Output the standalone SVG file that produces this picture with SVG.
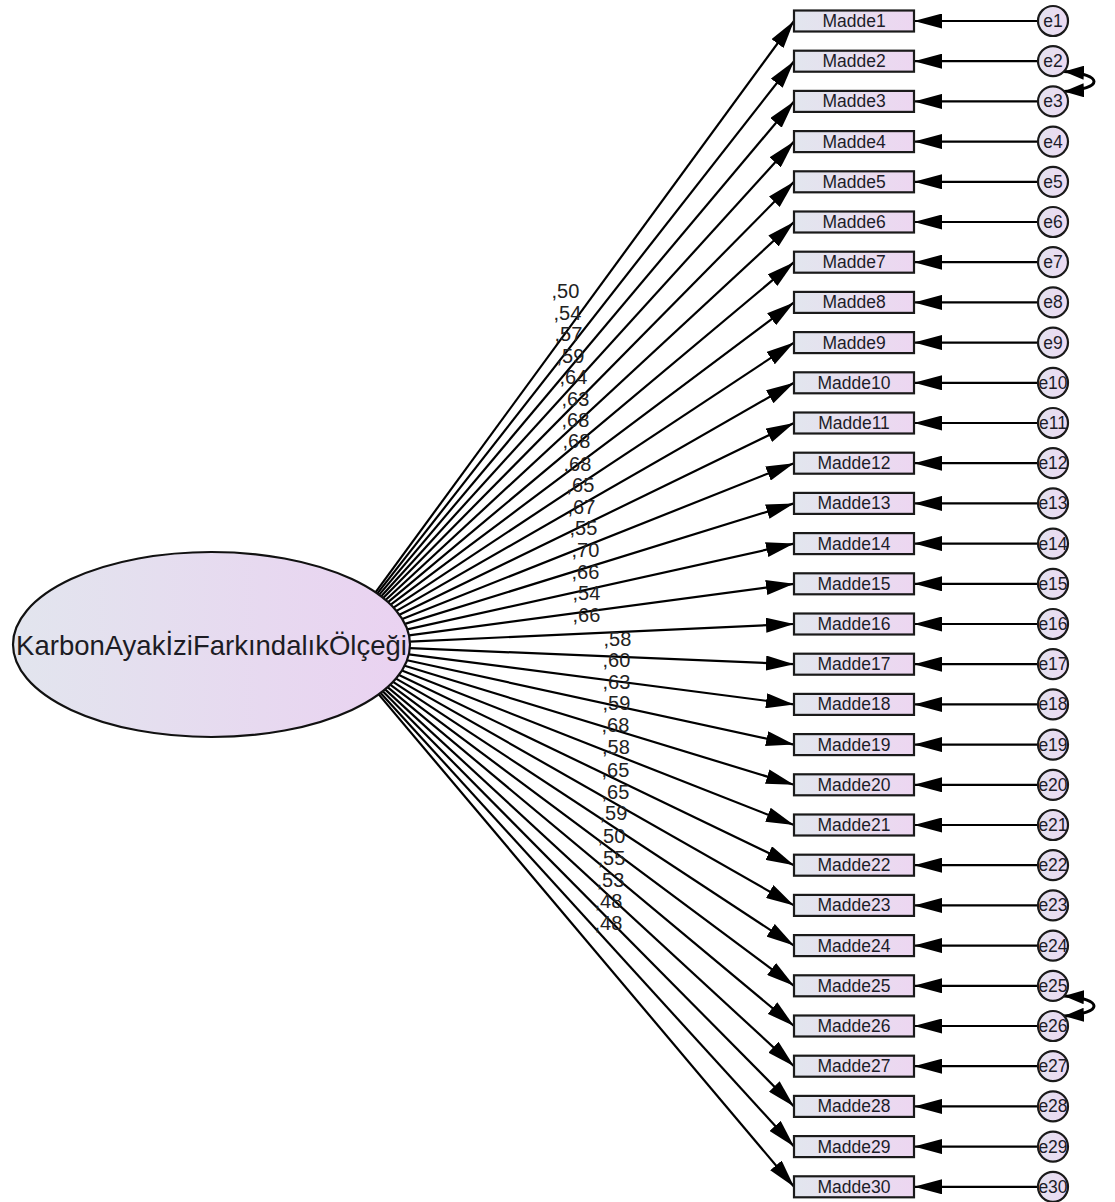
<svg xmlns="http://www.w3.org/2000/svg" width="1115" height="1202" viewBox="0 0 1115 1202">
<defs>
<linearGradient id="gBox" x1="0" y1="0" x2="1" y2="0"><stop offset="0" stop-color="#e2e6ee"/><stop offset="1" stop-color="#edd6f1"/></linearGradient>
<linearGradient id="gEll" x1="0" y1="0" x2="1" y2="0"><stop offset="0" stop-color="#e2e5ee"/><stop offset="1" stop-color="#ead2f1"/></linearGradient>
<linearGradient id="gCir" x1="0" y1="0" x2="1" y2="0"><stop offset="0" stop-color="#e3e2ef"/><stop offset="1" stop-color="#ecd9f2"/></linearGradient>
<marker id="ah" markerUnits="userSpaceOnUse" markerWidth="28" markerHeight="15" viewBox="0 0 28 15" refX="28" refY="7.5" orient="auto"><path d="M0,0 L28,7.5 L0,15 z" fill="#000"/></marker>
<marker id="ahs" markerUnits="userSpaceOnUse" markerWidth="20" markerHeight="14" viewBox="0 0 20 14" refX="20" refY="7" orient="auto-start-reverse"><path d="M0,0 L20,7 L0,14 z" fill="#000"/></marker>
</defs>
<style>
.ln{fill:none;stroke:#000;stroke-width:2.2;marker-end:url(#ah)}
.cv{fill:none;stroke:#000;stroke-width:3;marker-start:url(#ahs);marker-end:url(#ahs)}
.box{fill:url(#gBox);stroke:#1a1a1a;stroke-width:2.2}
.cir{fill:url(#gCir);stroke:#1a1a1a;stroke-width:2.2}
.ell{fill:url(#gEll);stroke:#111;stroke-width:2.2}
.bt{font-family:"Liberation Sans",Arial,sans-serif;font-size:17.5px;fill:#1c1c28;text-anchor:middle}
.lt{font-family:"Liberation Sans",Arial,sans-serif;font-size:20px;fill:#222}
.et{font-family:"Liberation Sans",Arial,sans-serif;font-size:27.5px;fill:#1c1c24;text-anchor:middle}
</style>
<rect width="1115" height="1202" fill="#fff"/>
<g id="connectors">
<path class="ln" d="M375.5,592.4 L794,21"/>
<path class="ln" d="M377.2,593.6 L794,61.2"/>
<path class="ln" d="M379.1,594.9 L794,101.4"/>
<path class="ln" d="M381.1,596.4 L794,141.6"/>
<path class="ln" d="M383.2,598.1 L794,181.8"/>
<path class="ln" d="M385.6,600 L794,222"/>
<path class="ln" d="M388.1,602.2 L794,262.2"/>
<path class="ln" d="M390.7,604.7 L794,302.4"/>
<path class="ln" d="M393.5,607.6 L794,342.6"/>
<path class="ln" d="M396.5,610.9 L794,382.8"/>
<path class="ln" d="M399.4,614.7 L794,423"/>
<path class="ln" d="M402.3,619 L794,463.2"/>
<path class="ln" d="M405,623.9 L794,503.4"/>
<path class="ln" d="M407.4,629.4 L794,543.6"/>
<path class="ln" d="M409,635.4 L794,583.8"/>
<path class="ln" d="M409.9,641.6 L794,624"/>
<path class="ln" d="M409.9,648.1 L794,664.2"/>
<path class="ln" d="M408.9,654.3 L794,704.4"/>
<path class="ln" d="M407.1,660.3 L794,744.6"/>
<path class="ln" d="M404.7,665.7 L794,784.8"/>
<path class="ln" d="M401.9,670.6 L794,825"/>
<path class="ln" d="M399,674.9 L794,865.2"/>
<path class="ln" d="M396,678.6 L794,905.4"/>
<path class="ln" d="M393.1,681.9 L794,945.6"/>
<path class="ln" d="M390.2,684.7 L794,985.8"/>
<path class="ln" d="M387.6,687.2 L794,1026"/>
<path class="ln" d="M385.1,689.4 L794,1066.2"/>
<path class="ln" d="M382.8,691.2 L794,1106.4"/>
<path class="ln" d="M380.6,692.9 L794,1146.6"/>
<path class="ln" d="M378.7,694.4 L794,1186.8"/>
<path class="ln" d="M1038,21 L914,21"/>
<path class="ln" d="M1038,61.2 L914,61.2"/>
<path class="ln" d="M1038,101.4 L914,101.4"/>
<path class="ln" d="M1038,141.6 L914,141.6"/>
<path class="ln" d="M1038,181.8 L914,181.8"/>
<path class="ln" d="M1038,222 L914,222"/>
<path class="ln" d="M1038,262.2 L914,262.2"/>
<path class="ln" d="M1038,302.4 L914,302.4"/>
<path class="ln" d="M1038,342.6 L914,342.6"/>
<path class="ln" d="M1038,382.8 L914,382.8"/>
<path class="ln" d="M1038,423 L914,423"/>
<path class="ln" d="M1038,463.2 L914,463.2"/>
<path class="ln" d="M1038,503.4 L914,503.4"/>
<path class="ln" d="M1038,543.6 L914,543.6"/>
<path class="ln" d="M1038,583.8 L914,583.8"/>
<path class="ln" d="M1038,624 L914,624"/>
<path class="ln" d="M1038,664.2 L914,664.2"/>
<path class="ln" d="M1038,704.4 L914,704.4"/>
<path class="ln" d="M1038,744.6 L914,744.6"/>
<path class="ln" d="M1038,784.8 L914,784.8"/>
<path class="ln" d="M1038,825 L914,825"/>
<path class="ln" d="M1038,865.2 L914,865.2"/>
<path class="ln" d="M1038,905.4 L914,905.4"/>
<path class="ln" d="M1038,945.6 L914,945.6"/>
<path class="ln" d="M1038,985.8 L914,985.8"/>
<path class="ln" d="M1038,1026 L914,1026"/>
<path class="ln" d="M1038,1066.2 L914,1066.2"/>
<path class="ln" d="M1038,1106.4 L914,1106.4"/>
<path class="ln" d="M1038,1146.6 L914,1146.6"/>
<path class="ln" d="M1038,1186.8 L914,1186.8"/>
<path class="cv" d="M1064,71.5 C1104,74 1104,89 1064,91.5"/>
<path class="cv" d="M1064,996 C1104,998.5 1104,1013.5 1064,1016"/>
</g>
<g id="loadings" class="lt">
<text x="551.5" y="298">,50</text>
<text x="553.5" y="320">,54</text>
<text x="554.5" y="341">,57</text>
<text x="556.5" y="363">,59</text>
<text x="559.5" y="384">,64</text>
<text x="561.5" y="406">,63</text>
<text x="561.5" y="427">,68</text>
<text x="562.5" y="448">,68</text>
<text x="563.5" y="471">,68</text>
<text x="566.5" y="492">,65</text>
<text x="567.5" y="514">,67</text>
<text x="569.5" y="535">,55</text>
<text x="571.5" y="557">,70</text>
<text x="571.5" y="579">,66</text>
<text x="572.5" y="600">,54</text>
<text x="572.5" y="622">,66</text>
<text x="603.5" y="646">,58</text>
<text x="602.5" y="667">,60</text>
<text x="602.5" y="689">,63</text>
<text x="602.5" y="710">,59</text>
<text x="601.5" y="732">,68</text>
<text x="602" y="754">,58</text>
<text x="601.5" y="777">,65</text>
<text x="601.5" y="799">,65</text>
<text x="599.5" y="820">,59</text>
<text x="597.5" y="843">,50</text>
<text x="597.5" y="865">,55</text>
<text x="596.5" y="887">,53</text>
<text x="594.5" y="908">,48</text>
<text x="594.5" y="930">,48</text>
</g>
<g id="latent">
<ellipse class="ell" cx="211.5" cy="644.5" rx="198.5" ry="92.5"/>
<text class="et" x="211.5" y="655">KarbonAyakİziFarkındalıkÖlçeği</text>
</g>
<g id="Madde1"><rect class="box" x="794" y="10.5" width="120" height="21"/><text class="bt" x="854" y="27">Madde1</text></g>
<g id="Madde2"><rect class="box" x="794" y="50.7" width="120" height="21"/><text class="bt" x="854" y="67.2">Madde2</text></g>
<g id="Madde3"><rect class="box" x="794" y="90.9" width="120" height="21"/><text class="bt" x="854" y="107.4">Madde3</text></g>
<g id="Madde4"><rect class="box" x="794" y="131.1" width="120" height="21"/><text class="bt" x="854" y="147.6">Madde4</text></g>
<g id="Madde5"><rect class="box" x="794" y="171.3" width="120" height="21"/><text class="bt" x="854" y="187.8">Madde5</text></g>
<g id="Madde6"><rect class="box" x="794" y="211.5" width="120" height="21"/><text class="bt" x="854" y="228">Madde6</text></g>
<g id="Madde7"><rect class="box" x="794" y="251.7" width="120" height="21"/><text class="bt" x="854" y="268.2">Madde7</text></g>
<g id="Madde8"><rect class="box" x="794" y="291.9" width="120" height="21"/><text class="bt" x="854" y="308.4">Madde8</text></g>
<g id="Madde9"><rect class="box" x="794" y="332.1" width="120" height="21"/><text class="bt" x="854" y="348.6">Madde9</text></g>
<g id="Madde10"><rect class="box" x="794" y="372.3" width="120" height="21"/><text class="bt" x="854" y="388.8">Madde10</text></g>
<g id="Madde11"><rect class="box" x="794" y="412.5" width="120" height="21"/><text class="bt" x="854" y="429">Madde11</text></g>
<g id="Madde12"><rect class="box" x="794" y="452.7" width="120" height="21"/><text class="bt" x="854" y="469.2">Madde12</text></g>
<g id="Madde13"><rect class="box" x="794" y="492.9" width="120" height="21"/><text class="bt" x="854" y="509.4">Madde13</text></g>
<g id="Madde14"><rect class="box" x="794" y="533.1" width="120" height="21"/><text class="bt" x="854" y="549.6">Madde14</text></g>
<g id="Madde15"><rect class="box" x="794" y="573.3" width="120" height="21"/><text class="bt" x="854" y="589.8">Madde15</text></g>
<g id="Madde16"><rect class="box" x="794" y="613.5" width="120" height="21"/><text class="bt" x="854" y="630">Madde16</text></g>
<g id="Madde17"><rect class="box" x="794" y="653.7" width="120" height="21"/><text class="bt" x="854" y="670.2">Madde17</text></g>
<g id="Madde18"><rect class="box" x="794" y="693.9" width="120" height="21"/><text class="bt" x="854" y="710.4">Madde18</text></g>
<g id="Madde19"><rect class="box" x="794" y="734.1" width="120" height="21"/><text class="bt" x="854" y="750.6">Madde19</text></g>
<g id="Madde20"><rect class="box" x="794" y="774.3" width="120" height="21"/><text class="bt" x="854" y="790.8">Madde20</text></g>
<g id="Madde21"><rect class="box" x="794" y="814.5" width="120" height="21"/><text class="bt" x="854" y="831">Madde21</text></g>
<g id="Madde22"><rect class="box" x="794" y="854.7" width="120" height="21"/><text class="bt" x="854" y="871.2">Madde22</text></g>
<g id="Madde23"><rect class="box" x="794" y="894.9" width="120" height="21"/><text class="bt" x="854" y="911.4">Madde23</text></g>
<g id="Madde24"><rect class="box" x="794" y="935.1" width="120" height="21"/><text class="bt" x="854" y="951.6">Madde24</text></g>
<g id="Madde25"><rect class="box" x="794" y="975.3" width="120" height="21"/><text class="bt" x="854" y="991.8">Madde25</text></g>
<g id="Madde26"><rect class="box" x="794" y="1015.5" width="120" height="21"/><text class="bt" x="854" y="1032">Madde26</text></g>
<g id="Madde27"><rect class="box" x="794" y="1055.7" width="120" height="21"/><text class="bt" x="854" y="1072.2">Madde27</text></g>
<g id="Madde28"><rect class="box" x="794" y="1095.9" width="120" height="21"/><text class="bt" x="854" y="1112.4">Madde28</text></g>
<g id="Madde29"><rect class="box" x="794" y="1136.1" width="120" height="21"/><text class="bt" x="854" y="1152.6">Madde29</text></g>
<g id="Madde30"><rect class="box" x="794" y="1176.3" width="120" height="21"/><text class="bt" x="854" y="1192.8">Madde30</text></g>
<g id="e1"><circle class="cir" cx="1053" cy="21" r="15"/><text class="bt" x="1053" y="27">e1</text></g>
<g id="e2"><circle class="cir" cx="1053" cy="61.2" r="15"/><text class="bt" x="1053" y="67.2">e2</text></g>
<g id="e3"><circle class="cir" cx="1053" cy="101.4" r="15"/><text class="bt" x="1053" y="107.4">e3</text></g>
<g id="e4"><circle class="cir" cx="1053" cy="141.6" r="15"/><text class="bt" x="1053" y="147.6">e4</text></g>
<g id="e5"><circle class="cir" cx="1053" cy="181.8" r="15"/><text class="bt" x="1053" y="187.8">e5</text></g>
<g id="e6"><circle class="cir" cx="1053" cy="222" r="15"/><text class="bt" x="1053" y="228">e6</text></g>
<g id="e7"><circle class="cir" cx="1053" cy="262.2" r="15"/><text class="bt" x="1053" y="268.2">e7</text></g>
<g id="e8"><circle class="cir" cx="1053" cy="302.4" r="15"/><text class="bt" x="1053" y="308.4">e8</text></g>
<g id="e9"><circle class="cir" cx="1053" cy="342.6" r="15"/><text class="bt" x="1053" y="348.6">e9</text></g>
<g id="e10"><circle class="cir" cx="1053" cy="382.8" r="15"/><text class="bt" x="1053" y="388.8">e10</text></g>
<g id="e11"><circle class="cir" cx="1053" cy="423" r="15"/><text class="bt" x="1053" y="429">e11</text></g>
<g id="e12"><circle class="cir" cx="1053" cy="463.2" r="15"/><text class="bt" x="1053" y="469.2">e12</text></g>
<g id="e13"><circle class="cir" cx="1053" cy="503.4" r="15"/><text class="bt" x="1053" y="509.4">e13</text></g>
<g id="e14"><circle class="cir" cx="1053" cy="543.6" r="15"/><text class="bt" x="1053" y="549.6">e14</text></g>
<g id="e15"><circle class="cir" cx="1053" cy="583.8" r="15"/><text class="bt" x="1053" y="589.8">e15</text></g>
<g id="e16"><circle class="cir" cx="1053" cy="624" r="15"/><text class="bt" x="1053" y="630">e16</text></g>
<g id="e17"><circle class="cir" cx="1053" cy="664.2" r="15"/><text class="bt" x="1053" y="670.2">e17</text></g>
<g id="e18"><circle class="cir" cx="1053" cy="704.4" r="15"/><text class="bt" x="1053" y="710.4">e18</text></g>
<g id="e19"><circle class="cir" cx="1053" cy="744.6" r="15"/><text class="bt" x="1053" y="750.6">e19</text></g>
<g id="e20"><circle class="cir" cx="1053" cy="784.8" r="15"/><text class="bt" x="1053" y="790.8">e20</text></g>
<g id="e21"><circle class="cir" cx="1053" cy="825" r="15"/><text class="bt" x="1053" y="831">e21</text></g>
<g id="e22"><circle class="cir" cx="1053" cy="865.2" r="15"/><text class="bt" x="1053" y="871.2">e22</text></g>
<g id="e23"><circle class="cir" cx="1053" cy="905.4" r="15"/><text class="bt" x="1053" y="911.4">e23</text></g>
<g id="e24"><circle class="cir" cx="1053" cy="945.6" r="15"/><text class="bt" x="1053" y="951.6">e24</text></g>
<g id="e25"><circle class="cir" cx="1053" cy="985.8" r="15"/><text class="bt" x="1053" y="991.8">e25</text></g>
<g id="e26"><circle class="cir" cx="1053" cy="1026" r="15"/><text class="bt" x="1053" y="1032">e26</text></g>
<g id="e27"><circle class="cir" cx="1053" cy="1066.2" r="15"/><text class="bt" x="1053" y="1072.2">e27</text></g>
<g id="e28"><circle class="cir" cx="1053" cy="1106.4" r="15"/><text class="bt" x="1053" y="1112.4">e28</text></g>
<g id="e29"><circle class="cir" cx="1053" cy="1146.6" r="15"/><text class="bt" x="1053" y="1152.6">e29</text></g>
<g id="e30"><circle class="cir" cx="1053" cy="1186.8" r="15"/><text class="bt" x="1053" y="1192.8">e30</text></g>
</svg>
